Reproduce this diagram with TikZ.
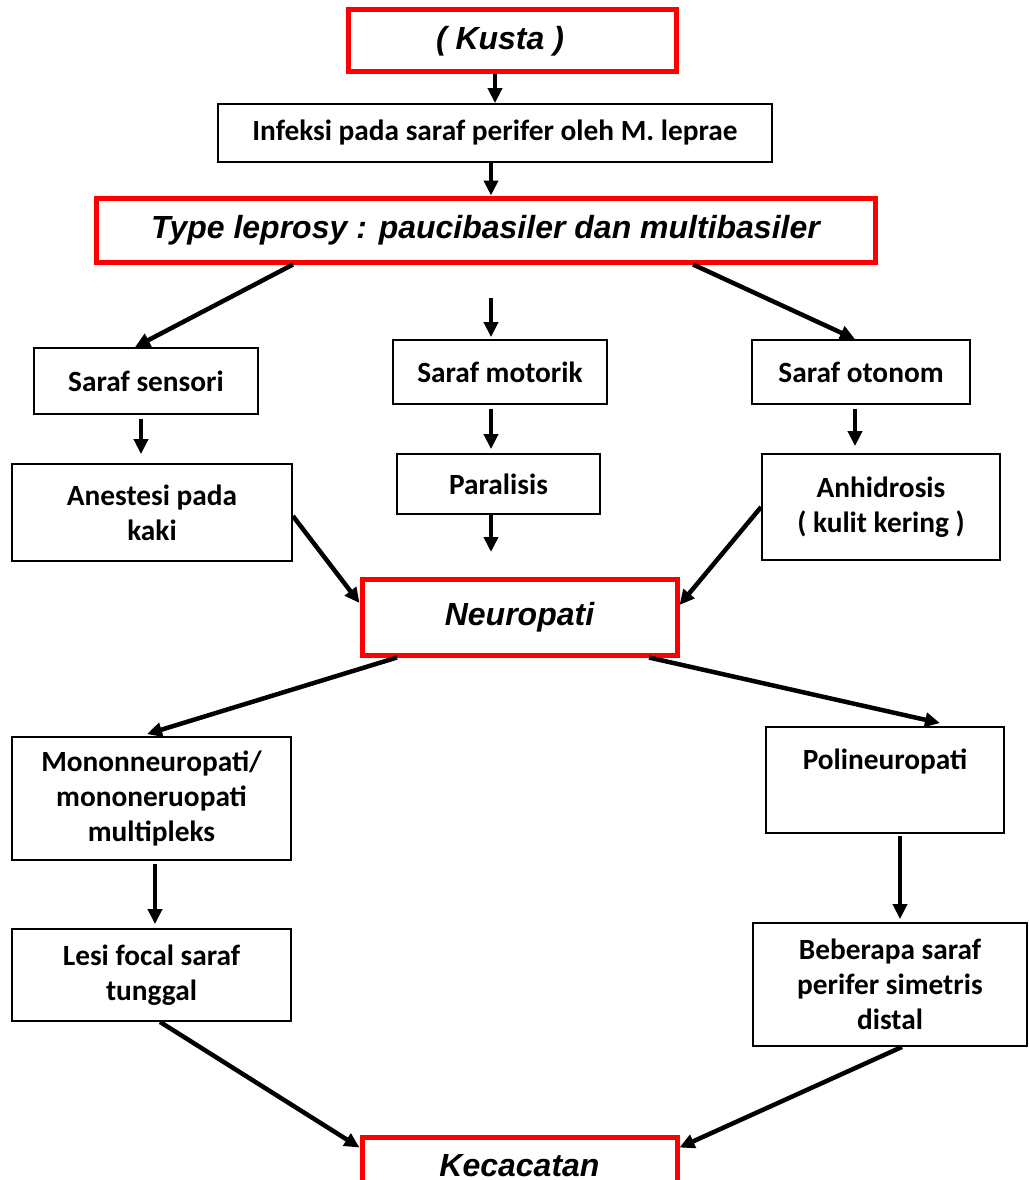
\documentclass[tikz,border=0pt]{standalone}
\usepackage{fontspec}
\setmainfont{Carlito}
\newfontfamily\arialf{Liberation Sans}
\usetikzlibrary{arrows.meta}
\begin{document}
\begin{tikzpicture}[x=1pt,y=-1pt,
  sz/.style 2 args={minimum width=#1pt, minimum height=#2pt},
  bbox/.style={draw=black, line width=1.8pt, fill=white, align=center, inner sep=0pt,
    font=\fontsize{29.33}{35}\selectfont\bfseries},
  rbox/.style={draw=red, line width=5pt, fill=white, align=center, inner sep=0pt,
    font=\fontsize{32}{38}\selectfont\arialf\bfseries\itshape},
  arr/.style={line width=4.5pt, -{Triangle[length=15pt,width=14pt]}}]
\useasboundingbox (0,0) rectangle (1028,1180);
\fill[white] (0,0) rectangle (1028,1180);

% nodes
\node[rbox, sz={328}{62}] (kusta) at (512,41) {( Kusta )\hspace*{24pt}};
\node[bbox, sz={554}{58}] (infeksi) at (495,133) {Infeksi pada saraf perifer oleh M. leprae};
\node[rbox, sz={779}{64}] (type) at (485.5,230) {Type leprosy : paucibasiler dan multibasiler};
\node[bbox, sz={224}{66}] (sensori) at (146,381) {Saraf sensori};
\node[bbox, sz={214}{64}] (motorik) at (500,372) {Saraf motorik};
\node[bbox, sz={218}{64}] (otonom) at (861,372) {Saraf otonom};
\node[bbox, sz={280}{97}] (anestesi) at (152,512.5) {Anestesi pada\\kaki};
\node[bbox, sz={203}{60}] (paralisis) at (498.5,484) {Paralisis};
\node[bbox, sz={238}{106}] (anhidrosis) at (881,507) {Anhidrosis\\( kulit kering )};
\node[rbox, sz={315}{76}] (neuropati) at (519.5,617) {Neuropati};
\node[bbox, sz={279}{123}] (mono) at (151.5,798.5) {Mononneuropati/\\mononeruopati\\multipleks};
\node[bbox, sz={238}{106}] (poli) at (885,780) {Polineuropati\\[6pt]~};
\node[bbox, sz={279}{92}] (lesi) at (151.5,975) {Lesi focal saraf\\tunggal};
\node[bbox, sz={274}{123}] (beberapa) at (890,984.5) {Beberapa saraf\\perifer simetris\\distal};
\node[rbox, sz={315}{58}] (kecacatan) at (519.5,1166) {Kecacatan};

\coordinate (m0) at (491,298);
\coordinate (p1) at (491,552);

% connectors
\draw[arr] (kusta.south -| infeksi.north) -- (infeksi.north);
\draw[arr] ([xshift=-4pt]infeksi.south) -- ([xshift=-4pt]infeksi.south |- type.north);
\draw[arr] ([xshift=-192.5pt]type.south) -- ([xshift=-11pt]sensori.north);
\draw[arr] ([xshift=207.5pt]type.south) -- ([xshift=-6pt]otonom.north);
\draw[arr] (m0) -- ([xshift=-9pt,yshift=2pt]motorik.north);
\draw[arr] ([xshift=-5pt,yshift=-4pt]sensori.south) -- ([xshift=-11pt,yshift=9pt]anestesi.north);
\draw[arr] ([xshift=-9pt,yshift=-4pt]motorik.south) -- ([xshift=-7.5pt,yshift=4pt]paralisis.north);
\draw[arr] ([xshift=-6pt,yshift=-4pt]otonom.south) -- ([xshift=-26pt,yshift=7pt]anhidrosis.north);
\draw[arr] ([xshift=-7.5pt]paralisis.south) -- (p1);
\draw[arr] ([yshift=-3.5pt]anestesi.east) -- ([yshift=14pt]neuropati.west);
\draw[arr] (anhidrosis.west) -- ([yshift=12pt]neuropati.east);
\draw[arr] ([xshift=-122.5pt]neuropati.south) -- ([xshift=-4.5pt,yshift=2pt]mono.north);
\draw[arr] ([xshift=129.5pt]neuropati.south) -- ([xshift=55pt,yshift=3pt]poli.north);
\draw[arr] ([xshift=3.5pt,yshift=-3pt]mono.south) -- ([xshift=3.5pt,yshift=4pt]lesi.north);
\draw[arr] ([xshift=15pt,yshift=-2pt]poli.south) -- ([xshift=10pt,yshift=3pt]beberapa.north);
\draw[arr] ([xshift=8.5pt]lesi.south) -- ([yshift=-13pt]kecacatan.north west);
\draw[arr] ([xshift=12pt]beberapa.south) -- ([yshift=-13pt]kecacatan.north east);
\end{tikzpicture}
\end{document}
